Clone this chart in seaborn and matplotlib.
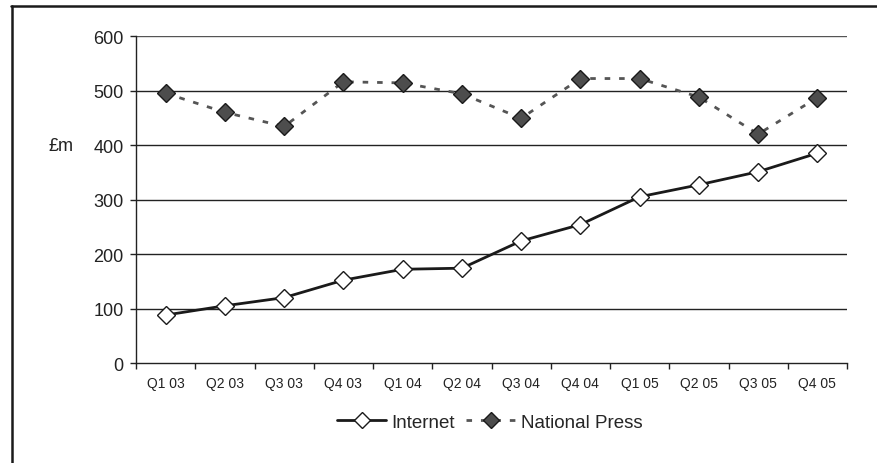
import numpy as np
import pandas as pd
import matplotlib
matplotlib.use('Agg')
import matplotlib.pyplot as plt
import seaborn as sns
from matplotlib.lines import Line2D

quarters = ['Q1 03', 'Q2 03', 'Q3 03', 'Q4 03', 'Q1 04', 'Q2 04',
            'Q3 04', 'Q4 04', 'Q1 05', 'Q2 05', 'Q3 05', 'Q4 05']
internet = [88, 105, 120, 152, 172, 174, 224, 254, 305, 327, 351, 385]
national_press = [495, 460, 434, 516, 514, 494, 449, 522, 522, 488, 420, 487]
y_ticks = [0, 100, 200, 300, 400, 500, 600]

sns.set_style('white')
plt.rcParams['font.family'] = ['Liberation Sans', 'DejaVu Sans']

df = pd.DataFrame({'pos': np.arange(len(quarters)),
                   'Internet': internet,
                   'National Press': national_press})

fig = plt.figure(figsize=(8.78, 4.64), dpi=100)
ax = fig.add_axes([0.1549, 0.2155, 0.8098, 0.7047])

# grid first so the lines sit on top
for v in y_ticks[1:]:
    ax.axhline(v, color='#222222' if v < 600 else '#555555', lw=1.0, zorder=1)

sns.lineplot(data=df, x='pos', y='National Press', ax=ax, color='#555555',
             lw=2.0, dashes=False, zorder=3)
ax.lines[-1].set_dashes((2.0, 3.2))
ax.plot(df['pos'], df['National Press'], ls='none', marker='D', ms=9.5,
        mfc='#4d4d4d', mec='#1a1a1a', mew=1.0, zorder=4)
sns.lineplot(data=df, x='pos', y='Internet', ax=ax, color='#1a1a1a',
             lw=2.0, zorder=3)
ax.plot(df['pos'], df['Internet'], ls='none', marker='D', ms=9.5,
        mfc='white', mec='#1a1a1a', mew=1.0, zorder=4)

ax.set_xlim(-0.5, len(quarters) - 0.5)
ax.set_ylim(0, 600)
ax.set_yticks(y_ticks)
ax.set_xticks(np.arange(len(quarters)))
ax.set_xticklabels(quarters, fontsize=10, color='#222222')
ax.set_xticks(np.arange(len(quarters) + 1) - 0.5, minor=True)
ax.tick_params(axis='x', which='major', length=0, pad=9)
ax.tick_params(axis='x', which='minor', length=4, width=1, color='#222222',
               direction='out', bottom=True)
ax.tick_params(axis='y', length=4, width=1, color='#222222', direction='out',
               left=True, labelsize=13, labelcolor='#222222', pad=5)
ax.set_xlabel('')
ax.set_ylabel('£m', rotation=0, fontsize=13, color='#222222')
ax.yaxis.set_label_coords(-0.105, 0.64)

for side in ['top', 'right']:
    ax.spines[side].set_visible(False)
for side in ['left', 'bottom']:
    ax.spines[side].set_color('#222222')
    ax.spines[side].set_linewidth(1.0)

handles = [
    Line2D([], [], color='#1a1a1a', lw=2.0, marker='D', ms=8,
           mfc='white', mec='#1a1a1a'),
    Line2D([], [], color='#555555', lw=2.0, dashes=(2.0, 3.2), marker='D',
           ms=8, mfc='#4d4d4d', mec='#1a1a1a'),
]
fig.legend(handles, ['Internet', 'National Press'], loc='center',
           bbox_to_anchor=(0.558, 0.088), ncol=2, frameon=False,
           fontsize=13.5, handlelength=2.6, handletextpad=0.3, columnspacing=0.6)

# outer chart frame (top and left edges visible)
fig.add_artist(Line2D([11 / 878, 1.0], [1 - 6.5 / 464] * 2,
                      transform=fig.transFigure, color='#1a1a1a', lw=1.8))
fig.add_artist(Line2D([12 / 878] * 2, [0, 1 - 6.5 / 464],
                      transform=fig.transFigure, color='#1a1a1a', lw=1.8))

fig.savefig('out.png', dpi=100)
